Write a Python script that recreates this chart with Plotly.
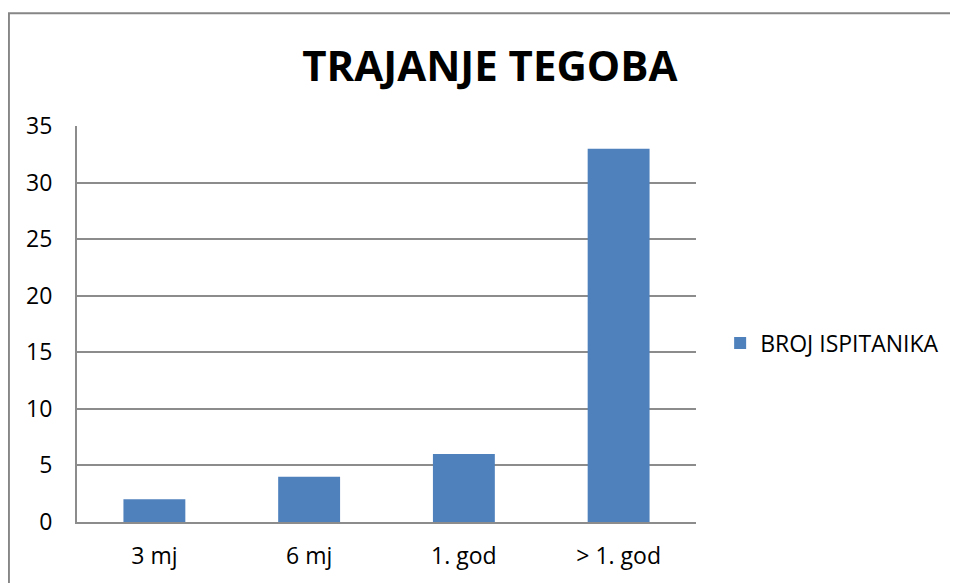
import plotly.graph_objects as go

# Chart data.
categories = ["3 mj", "6 mj", "1. god", "> 1. god"]
broj_ispitanika = [2, 4, 6, 33]
y_ticks = [0, 5, 10, 15, 20, 25, 30, 35]

BAR_BLUE = "#4F81BD"
GRID_GREY = "#8C8C8C"
FONT = "Open Sans"

fig = go.Figure()

fig.add_trace(
    go.Bar(
        x=categories,
        y=broj_ispitanika,
        name="BROJ ISPITANIKA",
        marker=dict(color=BAR_BLUE, line=dict(width=0)),
        width=0.4,
    )
)

# Outer chart frame (the reference is cropped on the right and bottom).
fig.add_shape(
    type="rect",
    xref="paper", yref="paper",
    x0=-0.11, x1=1.6, y0=-0.5, y1=1.285,
    line=dict(color="#868686", width=2),
    fillcolor="rgba(0,0,0,0)",
    layer="below",
)

fig.update_layout(
    width=958,
    height=583,
    paper_bgcolor="white",
    plot_bgcolor="white",
    font=dict(family=FONT, size=23, color="black"),
    title=dict(
        text="<b>TRAJANJE TEGOBA</b>",
        x=0.503, xref="container", xanchor="center",
        y=0.9, yref="container", yanchor="middle",
        font=dict(family=FONT, size=42, color="black"),
    ),
    xaxis=dict(
        showgrid=False,
        showline=True,
        linecolor=GRID_GREY,
        linewidth=2,
        ticks="",
        ticklabelstandoff=12,
        tickfont=dict(size=23),
    ),
    yaxis=dict(
        range=[0, 35],
        tickvals=y_ticks,
        showgrid=True,
        gridcolor=GRID_GREY,
        gridwidth=1.5,
        showline=True,
        linecolor=GRID_GREY,
        linewidth=2,
        zeroline=False,
        ticks="",
        ticklabelstandoff=18,
        tickfont=dict(size=23),
    ),
    showlegend=True,
    legend=dict(
        x=1.039, y=0.452,
        xanchor="left", yanchor="middle",
        font=dict(size=23),
        bgcolor="rgba(0,0,0,0)",
    ),
    margin=dict(l=69, r=270, t=118, b=69),
)

fig.write_html("out.html")
